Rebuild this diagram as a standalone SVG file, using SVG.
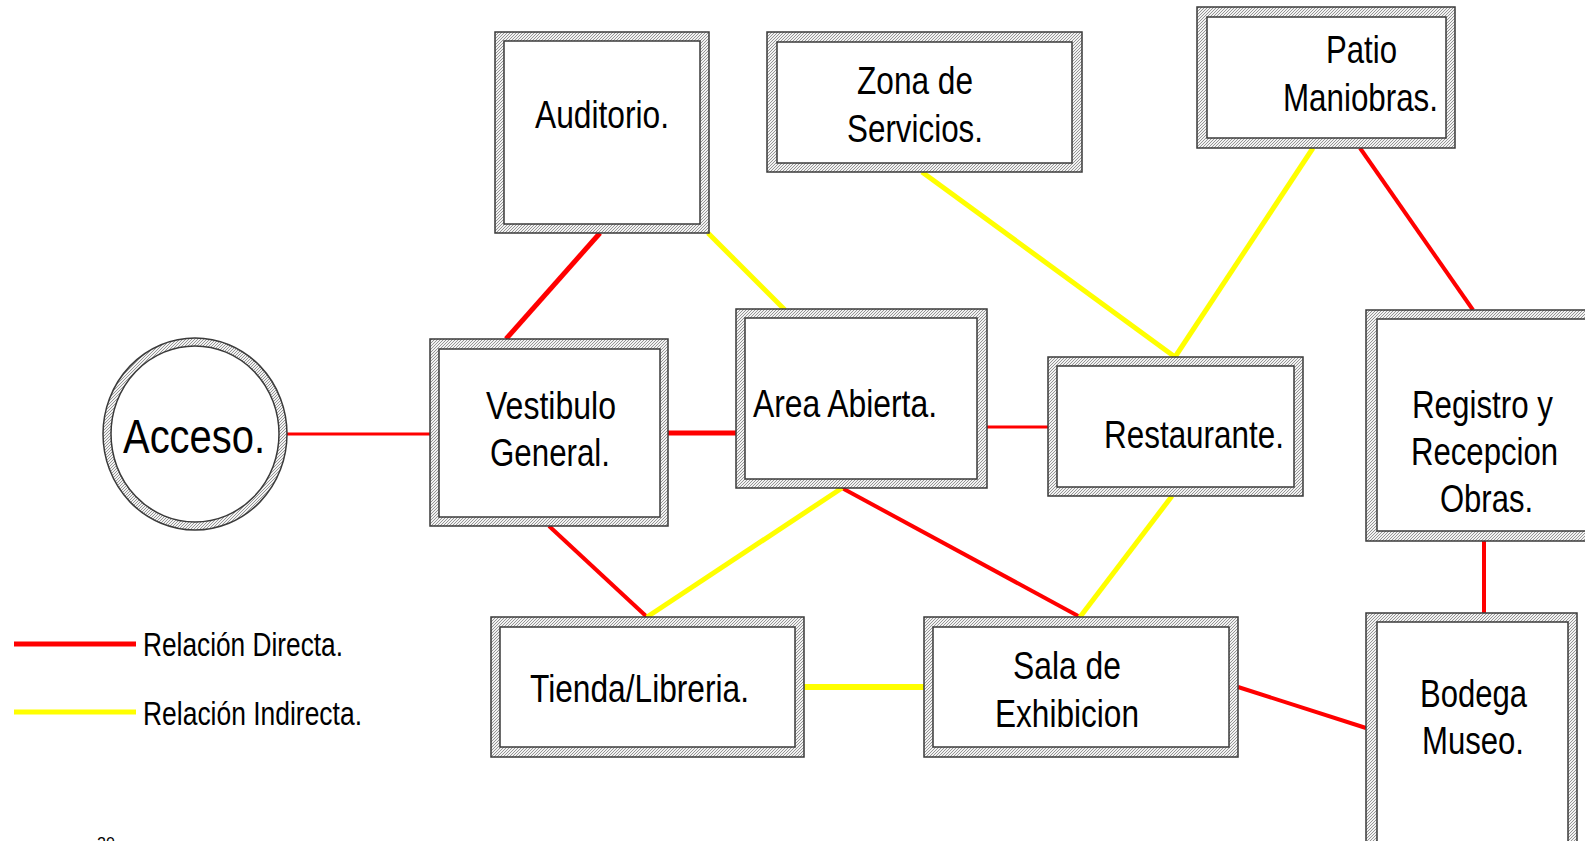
<svg xmlns="http://www.w3.org/2000/svg" width="1585" height="841" viewBox="0 0 1585 841">
<style>
.lbl{font-family:"Liberation Sans",Arial,sans-serif;font-size:39px;fill:#000}
.leg{font-family:"Liberation Sans",Arial,sans-serif;font-size:33px;fill:#000}
.outer{fill:url(#hatch);stroke:#3a3a3a;stroke-width:1.5}
.inner{fill:#fff;stroke:#3a3a3a;stroke-width:1.5}
.red{stroke:#ff0000;stroke-width:4;fill:none}
.yel{stroke:#ffff00;stroke-width:5;fill:none}
</style>
<defs>
<pattern id="hatch" patternUnits="userSpaceOnUse" width="3" height="3">
<rect width="3" height="3" fill="#f2f2f2"/>
<path d="M-1,1 L1,-1 M0,3 L3,0 M2,4 L4,2" stroke="#8a8a8a" stroke-width="0.9"/>
</pattern>
</defs>
<rect width="1585" height="841" fill="#fff"/>

<g id="connectors">
<line class="red" x1="287" y1="434" x2="430" y2="434" style="stroke-width:3"/>
<line class="red" x1="600" y1="233" x2="506" y2="339" style="stroke-width:5"/>
<line class="red" x1="668" y1="433" x2="736" y2="433" style="stroke-width:5"/>
<line class="red" x1="987" y1="427" x2="1048" y2="427" style="stroke-width:3"/>
<line class="red" x1="549" y1="526" x2="647" y2="617"/>
<line class="red" x1="842" y1="488" x2="1080" y2="617"/>
<line class="red" x1="1360" y1="148" x2="1473" y2="310"/>
<line class="red" x1="1484" y1="541" x2="1484" y2="613"/>
<line class="red" x1="1238" y1="687" x2="1366" y2="728"/>
<line class="yel" x1="708" y1="233" x2="785" y2="310"/>
<line class="yel" x1="922" y1="172" x2="1175" y2="357"/>
<line class="yel" x1="1313" y1="148" x2="1175" y2="357"/>
<line class="yel" x1="842" y1="488" x2="647" y2="617"/>
<line class="yel" x1="1172" y1="496" x2="1080" y2="617"/>
<line class="yel" x1="804" y1="687" x2="924" y2="687" style="stroke-width:6"/>
</g>

<g id="acceso">
<ellipse cx="195" cy="434" rx="92" ry="96" class="outer"/>
<ellipse cx="195" cy="434" rx="84" ry="88" class="inner"/>
<text class="lbl" style="font-size:48px" x="123" y="453" textLength="142" lengthAdjust="spacingAndGlyphs">Acceso.</text>
</g>

<g id="auditorio">
<rect x="495" y="32" width="214" height="201" class="outer"/>
<rect x="504" y="41" width="196" height="183" class="inner"/>
<text class="lbl" x="535" y="128" textLength="134" lengthAdjust="spacingAndGlyphs">Auditorio.</text>
</g>

<g id="zona-servicios">
<rect x="767" y="32" width="315" height="140" class="outer"/>
<rect x="777" y="42" width="295" height="121" class="inner"/>
<text class="lbl" x="857" y="94" textLength="116" lengthAdjust="spacingAndGlyphs">Zona de</text>
<text class="lbl" x="847" y="142" textLength="136" lengthAdjust="spacingAndGlyphs">Servicios.</text>
</g>

<g id="patio-maniobras">
<rect x="1197" y="7" width="258" height="141" class="outer"/>
<rect x="1207" y="17" width="239" height="121" class="inner"/>
<text class="lbl" x="1326" y="63" textLength="71" lengthAdjust="spacingAndGlyphs">Patio</text>
<text class="lbl" x="1283" y="111" textLength="155" lengthAdjust="spacingAndGlyphs">Maniobras.</text>
</g>

<g id="vestibulo">
<rect x="430" y="339" width="238" height="187" class="outer"/>
<rect x="439" y="349" width="221" height="168" class="inner"/>
<text class="lbl" x="486" y="419" textLength="130" lengthAdjust="spacingAndGlyphs">Vestibulo</text>
<text class="lbl" x="490" y="466" textLength="120" lengthAdjust="spacingAndGlyphs">General.</text>
</g>

<g id="area-abierta">
<rect x="736" y="309" width="251" height="179" class="outer"/>
<rect x="745" y="318" width="232" height="161" class="inner"/>
<text class="lbl" x="753" y="417" textLength="184" lengthAdjust="spacingAndGlyphs">Area Abierta.</text>
</g>

<g id="restaurante">
<rect x="1048" y="357" width="255" height="139" class="outer"/>
<rect x="1057" y="366" width="237" height="121" class="inner"/>
<text class="lbl" x="1104" y="448" textLength="180" lengthAdjust="spacingAndGlyphs">Restaurante.</text>
</g>

<g id="registro">
<rect x="1366" y="310" width="230" height="231" class="outer"/>
<rect x="1377" y="319" width="219" height="212" class="inner"/>
<text class="lbl" x="1412" y="418" textLength="141" lengthAdjust="spacingAndGlyphs">Registro y</text>
<text class="lbl" x="1411" y="465" textLength="147" lengthAdjust="spacingAndGlyphs">Recepcion</text>
<text class="lbl" x="1440" y="512" textLength="93" lengthAdjust="spacingAndGlyphs">Obras.</text>
</g>

<g id="bodega">
<rect x="1366" y="613" width="211" height="240" class="outer"/>
<rect x="1377" y="622" width="191" height="222" class="inner"/>
<text class="lbl" x="1420" y="707" textLength="107" lengthAdjust="spacingAndGlyphs">Bodega</text>
<text class="lbl" x="1422" y="754" textLength="102" lengthAdjust="spacingAndGlyphs">Museo.</text>
</g>

<g id="tienda">
<rect x="491" y="617" width="313" height="140" class="outer"/>
<rect x="500" y="627" width="295" height="120" class="inner"/>
<text class="lbl" x="530" y="702" textLength="219" lengthAdjust="spacingAndGlyphs">Tienda/Libreria.</text>
</g>

<g id="sala">
<rect x="924" y="617" width="314" height="140" class="outer"/>
<rect x="933" y="627" width="296" height="120" class="inner"/>
<text class="lbl" x="1013" y="679" textLength="108" lengthAdjust="spacingAndGlyphs">Sala de</text>
<text class="lbl" x="995" y="727" textLength="144" lengthAdjust="spacingAndGlyphs">Exhibicion</text>
</g>

<g id="legend">
<line x1="14" y1="644" x2="136" y2="644" stroke="#ff0000" stroke-width="5"/>
<line x1="14" y1="712" x2="136" y2="712" stroke="#ffff00" stroke-width="5"/>
<text class="leg" x="143" y="656" textLength="200" lengthAdjust="spacingAndGlyphs">Relación Directa.</text>
<text class="leg" x="143" y="725" textLength="219" lengthAdjust="spacingAndGlyphs">Relación Indirecta.</text>
<text class="leg" style="font-size:16px" x="97" y="849">20</text>
</g>
</svg>
